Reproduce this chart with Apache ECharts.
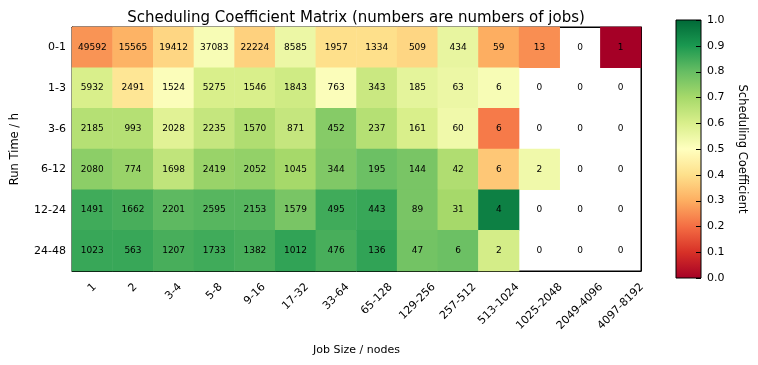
<!DOCTYPE html>
<html><head><meta charset="utf-8">
<script src="https://cdn.jsdelivr.net/npm/echarts@6/dist/echarts.min.js"></script>
<style>html,body{margin:0;padding:0;background:#fff}#c{width:758px;height:365px}</style>
</head><body><div id="c"></div>
<script>
const jobSizes = ['1','2','3-4','5-8','9-16','17-32','33-64','65-128','129-256','257-512','513-1024','1025-2048','2049-4096','4097-8192'];
const runTimes = ['0-1','1-3','3-6','6-12','12-24','24-48'];
const jobCounts = [
  [49592,15565,19412,37083,22224,8585,1957,1334,509,434,59,13,0,1],
  [5932,2491,1524,5275,1546,1843,763,343,185,63,6,0,0,0],
  [2185,993,2028,2235,1570,871,452,237,161,60,6,0,0,0],
  [2080,774,1698,2419,2052,1045,344,195,144,42,6,2,0,0],
  [1491,1662,2201,2595,2153,1579,495,443,89,31,4,0,0,0],
  [1023,563,1207,1733,1382,1012,476,136,47,6,2,0,0,0]
];
const coefficients = [
  [0.26,0.31,0.38,0.52,0.37,0.55,0.40,0.40,0.38,0.56,0.30,0.25,null,0.0],
  [0.60,0.42,0.51,0.60,0.60,0.62,0.51,0.63,0.57,0.55,0.52,null,null,null],
  [0.67,0.67,0.58,0.64,0.68,0.64,0.75,0.67,0.60,0.54,0.22,null,null,null],
  [0.74,0.72,0.65,0.72,0.73,0.70,0.76,0.79,0.77,0.68,0.35,0.54,null,null],
  [0.85,0.84,0.81,0.82,0.82,0.77,0.85,0.86,0.77,0.70,0.95,null,null,null],
  [0.86,0.86,0.84,0.85,0.84,0.87,0.84,0.87,0.78,0.79,0.61,null,null,null]
];
const colorTicks = [0,0.1,0.2,0.3,0.4,0.5,0.6,0.7,0.8,0.9,1.0];
const rdylgn = ['#a50026','#d73027','#f46d43','#fdae61','#fee08b','#ffffbf','#d9ef8b','#a6d96a','#66bd63','#1a9850','#006837'];

const filled = [], empty = [];
runTimes.forEach((r, i) => jobSizes.forEach((s, j) => {
  const c = coefficients[i][j];
  if (c === null) empty.push([j, i, 0, jobCounts[i][j]]);
  else filled.push([j, i, c, jobCounts[i][j]]);
}));

const F = 'DejaVu Sans';
const G = {left: 72, top: 27, width: 569, height: 244};
const CB = {left: 676, top: 20, width: 25, height: 258};
const chart = echarts.init(document.getElementById('c'));
const lbl = {show: true, fontFamily: F, fontSize: 9, color: '#000', formatter: p => String(p.value[3])};
const tick = {inside: true, alignWithLabel: true, length: 4, lineStyle: {color: '#000'}};
const gradient = new echarts.graphic.LinearGradient(0, 1, 0, 0,
  rdylgn.map((c, i) => ({offset: i / (rdylgn.length - 1), color: c})));
chart.setOption({
  animation: false,
  textStyle: {fontFamily: F},
  title: {text: 'Scheduling Coefficient Matrix (numbers are numbers of jobs)', left: 351, textAlign: 'center', top: 6,
    textStyle: {fontFamily: F, fontSize: 15, fontWeight: 'normal', color: '#000'}},
  grid: [
    Object.assign({show: true, borderColor: '#000', borderWidth: 1, backgroundColor: '#fff'}, G),
    Object.assign({show: true, borderColor: '#000', borderWidth: 1, backgroundColor: gradient}, CB)
  ],
  xAxis: [
    {type: 'category', gridIndex: 0, data: jobSizes, position: 'bottom',
     axisLine: {lineStyle: {color: '#000'}}, splitLine: {show: false},
     axisTick: tick, axisLabel: {show: false},
     name: 'Job Size / nodes', nameLocation: 'middle', nameGap: 74,
     nameTextStyle: {fontSize: 11, color: '#000', fontFamily: F}},
    {type: 'category', gridIndex: 0, data: jobSizes, position: 'top',
     axisLine: {lineStyle: {color: '#000'}}, axisTick: tick, axisLabel: {show: false}},
    {type: 'value', gridIndex: 1, show: false, min: 0, max: 1}
  ],
  yAxis: [
    {type: 'category', gridIndex: 0, data: runTimes, inverse: true,
     axisLine: {lineStyle: {color: '#000'}}, splitLine: {show: false},
     axisTick: tick,
     axisLabel: {fontSize: 11, color: '#000', fontFamily: F, margin: 6},
     name: 'Run Time / h', nameLocation: 'middle', nameGap: 51,
     nameTextStyle: {fontSize: 11.5, color: '#000', fontFamily: F}},
    {type: 'category', gridIndex: 0, data: runTimes, inverse: true, position: 'right',
     axisLine: {lineStyle: {color: '#000'}}, axisTick: tick, axisLabel: {show: false}},
    {type: 'value', gridIndex: 1, position: 'right', min: colorTicks[0], max: colorTicks[colorTicks.length-1], interval: 0.1,
     axisLine: {show: false}, splitLine: {show: false}, axisTick: {show: false},
     axisLabel: {fontSize: 11, color: '#000', fontFamily: F, margin: 6, formatter: v => v.toFixed(1)},
     name: 'Scheduling Coefficient', nameLocation: 'middle', nameRotate: -90, nameGap: 35,
     nameTextStyle: {fontSize: 11.5, color: '#000', fontFamily: F}}
  ],
  visualMap: {show: false, type: 'continuous', min: 0, max: 1, dimension: 2, seriesIndex: 0,
    inRange: {color: rdylgn}},
  series: [
    {type: 'heatmap', xAxisIndex: 0, yAxisIndex: 0, data: filled, label: lbl,
     emphasis: {disabled: true}, itemStyle: {borderWidth: 0}},
    {type: 'heatmap', xAxisIndex: 0, yAxisIndex: 0, data: empty, label: lbl,
     emphasis: {disabled: true}, itemStyle: {color: 'rgba(255,255,255,0)'}}
  ]
});

// x tick labels, rotated 45deg and centred on the tick (matplotlib style)
const ctx = document.createElement('canvas').getContext('2d');
const fs = 11;
ctx.font = fs + 'px "' + F + '"';
const labelTop = G.top + G.height + 10;
const gfx = jobSizes.map((s, j) => {
  const px = chart.convertToPixel({xAxisIndex: 0}, j);
  const L = ctx.measureText(s).width;
  const side = (L + fs * 1.1) / Math.SQRT2;
  return {type: 'text', x: px, y: labelTop + side / 2, rotation: Math.PI / 4, silent: true,
    style: {text: s, fontSize: fs, fontFamily: F, fill: '#000', align: 'center', verticalAlign: 'middle'}};
});
// colorbar ticks: inward from the right edge, placed through the colorbar axis scale
const cbRight = CB.left + CB.width;
colorTicks.forEach(v => {
  const py = Math.round(chart.convertToPixel({yAxisIndex: 2}, v)) + 0.5;
  gfx.push({type: 'line', z: 100, silent: true,
    shape: {x1: cbRight - 5, y1: py, x2: cbRight, y2: py},
    style: {stroke: '#000', lineWidth: 1}});
});
chart.setOption({graphic: gfx});
</script></body></html>
